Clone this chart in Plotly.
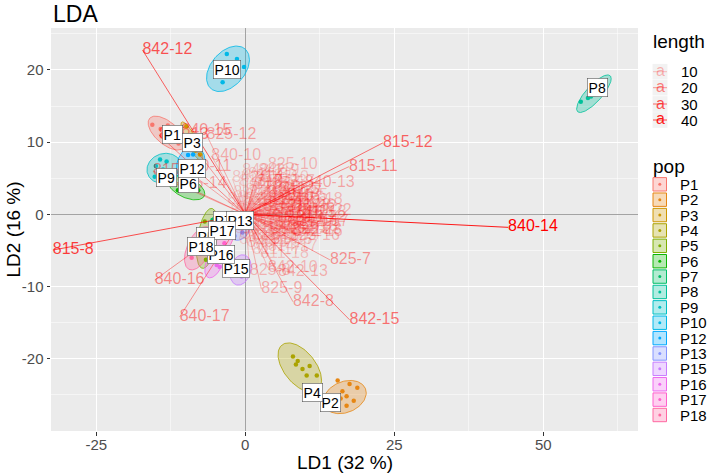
import numpy as np
import plotly.graph_objects as go

# ---------------- data ----------------
pops = ["P1", "P2", "P3", "P4", "P5", "P6", "P7", "P8", "P9", "P10",
        "P12", "P13", "P15", "P16", "P17", "P18"]
pop_colors = ["#F8766D", "#E68613", "#CD9600", "#ABA300", "#7CAE00", "#0CB702",
              "#00BE67", "#00C19A", "#00BFC4", "#00B8E7", "#00A9FF", "#8494FF",
              "#C77CFF", "#ED68ED", "#FF61CC", "#FF68A1"]

# ellipse: centre, half extents along LD1 / LD2 and correlation
ell_cx = [-13.2, 16.7, -8.95, 9.15, -6.4, -9.9, -4.8, 58.5, -13.6, -2.9,
          -9.15, -0.8, -0.8, -5.1, -3.8, -7.8]
ell_cy = [11.25, -25.3, 10.1, -21.2, -3.33, 3.7, -1.5, 16.7, 6.37, 20.15,
          6.95, -1.85, -7.7, -6.55, -3.0, -4.7]
ell_rx = [3.1, 3.6, 1.85, 3.65, 1.8, 3.1, 1.2, 2.9, 2.9, 3.6,
          2.4, 1.8, 1.8, 1.7, 2.0, 2.4]
ell_ry = [2.35, 2.3, 2.7, 3.4, 4.15, 1.7, 1.5, 2.6, 2.08, 3.15,
          2.43, 1.75, 2.1, 2.25, 2.3, 3.0]
ell_rho = [-0.6, 0.25, -0.85, -0.52, 0.4, -0.5, 0.2, 0.8, 0.1, 0.4,
           0.2, 0.3, 0.2, 0.5, 0.3, 0.5]

# individual scores
pt_x = [
    [-15.6, -14.2, -13.0, -12.6, -11.8, -11.2, -14.0],
    [15.5, 17.5, 18.8, 16.3, 17.0, 16.0, 18.2, 17.0],
    [-9.9, -9.0, -8.4, -7.6, -8.0],
    [8.0, 8.8, 9.6, 10.8, 12.0, 10.3, 8.5],
    [-6.8, -6.0, -7.0, -5.8, -6.6],
    [-11.3, -9.0, -7.9, -10.15, -10.5],
    [-5.5, -4.8, -5.2],
    [56.3, 57.5, 58.5, 59.1, 59.6, 58.0],
    [-14.3, -15.2, -13.2, -13.8, -12.3, -15.0],
    [-3.1, -1.4, -0.2, -2.3, -3.6, -3.8],
    [-9.6, -8.75, -9.4, -7.9, -8.5],
    [-1.5, 0.2, -0.5, -1.8],
    [-0.4, -0.6, -1.5, 0.2],
    [-4.8, -4.3, -5.8, -4.0],
    [-4.2, -3.0, -5.0, -3.5],
    [-8.5, -7.5, -9.0, -7.0],
]
pt_y = [
    [12.4, 11.8, 12.3, 10.7, 10.2, 9.8, 10.9],
    [-23.0, -23.5, -24.0, -24.5, -25.2, -25.5, -25.8, -26.5],
    [12.2, 11.0, 8.8, 8.3, 7.4],
    [-19.7, -20.3, -21.4, -21.0, -22.3, -22.3, -20.8],
    [-1.0, -2.5, -4.0, -5.5, -6.3],
    [3.35, 3.6, 3.35, 4.5, 5.0],
    [-0.8, -1.5, -2.2],
    [15.6, 16.1, 16.6, 16.9, 17.3, 16.3],
    [7.6, 5.2, 7.3, 6.2, 6.0, 6.7],
    [22.2, 21.5, 20.4, 19.3, 19.2, 18.3],
    [8.2, 8.3, 6.8, 6.8, 5.5],
    [-1.5, -1.0, -2.5, -3.0],
    [-6.8, -8.6, -8.0, -7.3],
    [-7.0, -7.3, -6.0, -5.3],
    [-2.5, -3.0, -1.8, -4.0],
    [-3.5, -5.5, -6.0, -3.0],
]

# population label positions
lab_x = [-12.2, 14.3, -8.8, 11.2, -6.45, -9.6, -3.6, 59.1, -13.2, -3.0,
         -8.9, -0.9, -1.5, -4.1, -3.9, -7.5]
lab_y = [11.0, -26.0, 10.0, -24.6, -3.0, 4.3, -0.8, 17.5, 5.1, 20.0,
         6.3, -0.8, -7.5, -5.6, -2.2, -4.4]

# loadings (allele contributions)
load_names = [
    "842-12", "815-8", "840-14", "815-12", "815-11", "840-13", "825-10", "840-10",
    "840-15", "825-12", "825-7", "842-8", "825-9", "842-15", "840-16", "840-17",
    "825-8", "842-10", "842-13", "842-16", "815-18", "825-18",
    "815-13", "815-9", "840-11", "815-14",
    "811-7", "811-8", "811-9", "811-10", "811-11", "811-12", "811-13", "811-14", "811-15", "811-16",
    "814-7", "814-8", "814-9", "814-10", "814-11", "814-12", "814-13", "814-14", "814-15", "814-16",
    "815-7", "815-10", "815-15", "815-16", "815-17",
    "825-11", "825-13", "825-14", "825-15", "825-16", "825-17",
    "840-7", "840-8", "840-9", "840-12", "840-18",
    "842-7", "842-9", "842-11", "842-14", "842-17", "842-18",
    "811-17", "811-18", "814-17", "814-18", "825-6", "840-6", "842-6", "815-6",
    "811-19", "811-20", "811-21", "811-22", "811-23", "814-19", "814-20", "814-21", "814-22", "814-23",
    "815-19", "815-20", "815-21", "815-22", "815-23", "825-19", "825-20", "825-21", "825-22", "825-23",
    "840-19", "840-20", "840-21", "840-22", "840-23", "842-19", "842-20", "842-21", "842-22", "842-23",
    "811-5", "814-5", "815-5", "825-5", "840-5", "842-5", "811-6", "814-6", "811-24", "814-24",
]
load_x = [
    -17.25, -32.3, 44.1, 23.1, 17.4, 10.0, 3.8, -5.7,
    -10.7, -6.5, 14.2, 8.0, 2.7, 17.5, -15.2, -11.0,
    0.75, 3.8, 5.5, 8.0, 8.6, 7.5,
    -14.5, -15.5, -10.5, -11.5,
    -1.0, 0.5, 1.5, 2.5, -2.0, 3.5, 4.5, 1.0, 2.0, 5.5,
    6.0, -1.5, 0.0, 3.0, 4.0, 7.0, 6.5, 5.0, 3.5, 2.0,
    1.0, -0.5, -2.5, -3.0, 0.2,
    1.8, 2.8, 4.2, 6.0, 7.5, 3.2,
    1.5, 0.3, -1.0, 5.8, 8.0,
    4.8, 2.2, -0.5, -2.2, 9.0, 7.2,
    1.2, 2.5, 3.8, -1.8, 0.8, -0.8, 2.5, 4.0,
    1.5, 3.0, 4.5, 2.2, 0.5, -1.2, 5.2, 6.8, 3.8, 2.0,
    1.0, 4.0, 5.5, 8.5, 6.0, -0.3, 2.8, 1.5, 3.3, 7.8,
    0.6, -2.0, 4.8, 9.5, 2.4, 5.0, 6.2, 3.6, 0.8, -1.5,
    2.6, 4.4, 1.8, 3.0, 7.0, 5.6, -0.6, 8.2, 1.2, 3.9,
]
load_y = [
    22.75, -4.95, -1.8, 9.9, 6.6, 4.3, 6.9, 8.1,
    11.5, 11.0, -6.3, -12.1, -10.35, -14.6, -9.1, -14.2,
    -7.85, -7.4, -8.0, -2.45, 0.2, -1.1,
    11.0, 6.0, 6.5, 4.2,
    4.5, 5.5, 4.0, 5.0, 3.0, 3.5, 2.5, 2.0, 1.2, 1.5,
    3.0, 1.5, 3.2, 2.2, 0.8, 1.0, -0.5, -1.2, -0.5, -1.0,
    -2.0, -1.0, 0.5, 2.0, 1.0,
    0.3, -2.0, -2.8, -2.2, -3.0, -3.5,
    -3.0, -4.0, -3.5, 0.5, 2.0,
    4.5, 6.0, 6.0, 5.0, -1.0, -1.8,
    -5.0, -5.5, -4.5, -2.0, 0.5, 0.3, 3.0, 1.8,
    2.5, 1.0, -0.3, -1.5, -1.2, 2.2, 2.0, 0.2, 3.0, 4.5,
    -3.0, -1.5, -2.0, -0.5, 1.2, 1.8, 0.5, -0.5, -2.5, -2.2,
    3.8, -0.8, 3.6, 0.5, 2.0, 0.0, -1.0, 1.6, -2.2, -1.8,
    -3.8, -3.6, 5.2, 4.2, 2.6, 3.4, -2.8, 1.2, 1.4, 0.2,
]
length_breaks = [10, 20, 30, 40]

x_ticks = [-25, 0, 25, 50]
x_tick_text = ["-25", "0", "25", "50"]
y_ticks = [-20, -10, 0, 10, 20]
y_tick_text = ["-20", "-10", "0", "10", "20"]

# ---------------- helpers ----------------
W, H = 708, 473
def PX(v): return v / W
def PY(v): return 1 - v / H

def rgba(hexc, a):
    h = hexc.lstrip("#")
    return "rgba(%d,%d,%d,%.3f)" % (int(h[0:2], 16), int(h[2:4], 16), int(h[4:6], 16), a)

lengths = [float(np.hypot(a, b)) for a, b in zip(load_x, load_y)]
lmin, lmax = min(lengths), max(lengths)
def alpha_of(L):
    return float(np.clip(0.1 + 0.9 * (L - lmin) / (lmax - lmin), 0.1, 1.0))

FONT = "Liberation Sans, Arial, sans-serif"
fig = go.Figure()

# ellipses
t = np.linspace(0, 2 * np.pi, 120)
for i, p in enumerate(pops):
    phi = np.arccos(ell_rho[i])
    ex = ell_cx[i] + ell_rx[i] * np.cos(t)
    ey = ell_cy[i] + ell_ry[i] * np.cos(t - phi)
    fig.add_trace(go.Scatter(x=ex, y=ey, mode="lines", fill="toself",
                             fillcolor=rgba(pop_colors[i], 0.3),
                             line=dict(color=pop_colors[i], width=0.8),
                             hoverinfo="skip"))
# points
for i, p in enumerate(pops):
    fig.add_trace(go.Scatter(x=pt_x[i], y=pt_y[i], mode="markers",
                             marker=dict(color=pop_colors[i], size=4.5),
                             hoverinfo="skip"))
# loading segments
for n, lx, ly, L in zip(load_names, load_x, load_y, lengths):
    fig.add_trace(go.Scatter(x=[0, lx], y=[0, ly], mode="lines",
                             line=dict(color=rgba("#FF0000", alpha_of(L)), width=0.9),
                             hoverinfo="skip"))
# loading labels
fig.add_trace(go.Scatter(x=load_x, y=load_y, mode="text", text=load_names,
                         textposition="middle right",
                         textfont=dict(family=FONT, size=16,
                                       color=[rgba("#FF0000", alpha_of(L)) for L in lengths]),
                         hoverinfo="skip"))

annotations = []
# population labels
for i, p in enumerate(pops):
    annotations.append(dict(x=lab_x[i], y=lab_y[i], xref="x", yref="y", text=p,
                            showarrow=False, bgcolor="white", bordercolor="#555555",
                            borderwidth=0.6, borderpad=1,
                            font=dict(family=FONT, size=14, color="black")))

# titles
annotations.append(dict(x=PX(51), y=PY(14), xref="paper", yref="paper", text="LDA",
                        showarrow=False, xanchor="left", yanchor="middle",
                        font=dict(family=FONT, size=23, color="black")))
annotations.append(dict(x=PX(344.5), y=PY(462), xref="paper", yref="paper",
                        text="LD1 (32 %)", showarrow=False, xanchor="center", yanchor="middle",
                        font=dict(family=FONT, size=19, color="black")))
annotations.append(dict(x=PX(13), y=PY(229.5), xref="paper", yref="paper",
                        text="LD2 (16 %)", showarrow=False, textangle=-90,
                        xanchor="center", yanchor="middle",
                        font=dict(family=FONT, size=19, color="black")))

shapes = []
# length legend
annotations.append(dict(x=PX(651), y=PY(41.5), xref="paper", yref="paper", text="length",
                        showarrow=False, xanchor="left", yanchor="middle",
                        font=dict(family=FONT, size=19, color="black")))
len_y = [71.7, 87.7, 104.0, 120.0]
for b, cy in zip(length_breaks, len_y):
    a = alpha_of(b)
    shapes.append(dict(type="rect", xref="paper", yref="paper",
                       x0=PX(652.5), x1=PX(667.5), y0=PY(cy + 7.8), y1=PY(cy - 7.8),
                       fillcolor="#F2F2F2", line=dict(width=0), layer="above"))
    shapes.append(dict(type="line", xref="paper", yref="paper",
                       x0=PX(653), x1=PX(667), y0=PY(cy), y1=PY(cy),
                       line=dict(color=rgba("#FF0000", a), width=0.8), layer="above"))
    annotations.append(dict(x=PX(660), y=PY(cy - 1), xref="paper", yref="paper", text="a",
                            showarrow=False, xanchor="center", yanchor="middle",
                            font=dict(family=FONT, size=16, color=rgba("#FF0000", a))))
    annotations.append(dict(x=PX(678.5), y=PY(cy), xref="paper", yref="paper", text=str(b),
                            showarrow=False, xanchor="left", yanchor="middle",
                            font=dict(family=FONT, size=15, color="black")))

# pop legend
annotations.append(dict(x=PX(651), y=PY(166.5), xref="paper", yref="paper", text="pop",
                        showarrow=False, xanchor="left", yanchor="middle",
                        font=dict(family=FONT, size=19, color="black")))
for i, p in enumerate(pops):
    cy = 184.3 + i * 15.38
    shapes.append(dict(type="rect", xref="paper", yref="paper",
                       x0=PX(653), x1=PX(666.5), y0=PY(cy + 6.7), y1=PY(cy - 6.7),
                       fillcolor=rgba(pop_colors[i], 0.3),
                       line=dict(color=pop_colors[i], width=1), layer="above"))
    shapes.append(dict(type="circle", xref="paper", yref="paper",
                       x0=PX(658.3), x1=PX(661.3), y0=PY(cy + 1.5), y1=PY(cy - 1.5),
                       fillcolor=pop_colors[i], line=dict(width=0), layer="above"))
    annotations.append(dict(x=PX(677.5), y=PY(cy), xref="paper", yref="paper", text=p,
                            showarrow=False, xanchor="left", yanchor="middle",
                            font=dict(family=FONT, size=15, color="black")))

axis_common = dict(showline=False, ticks="outside", ticklen=3.5, tickwidth=1,
                   tickcolor="#333333", tickfont=dict(family=FONT, size=15, color="#4D4D4D"),
                   showgrid=True, gridcolor="white", gridwidth=1.1,
                   zeroline=True, zerolinecolor="#A3A3A3", zerolinewidth=1,
                   automargin=False, fixedrange=True)

fig.update_layout(
    width=W, height=H, margin=dict(l=0, r=0, t=0, b=0),
    paper_bgcolor="white", plot_bgcolor="#EBEBEB", showlegend=False,
    xaxis=dict(domain=[PX(51), PX(638)], range=[-32.6, 65.9],
               tickmode="array", tickvals=x_ticks, ticktext=x_tick_text,
               ticklabelstandoff=-4,
               minor=dict(tickmode="array", tickvals=[-12.5, 12.5, 37.5, 62.5],
                          showgrid=True, gridcolor="white", gridwidth=0.5, ticks=""),
               **axis_common),
    yaxis=dict(domain=[PY(431), PY(28)], range=[-30.0, 25.8],
               tickmode="array", tickvals=y_ticks, ticktext=y_tick_text,
               minor=dict(tickmode="array", tickvals=[-25, -15, -5, 5, 15, 25],
                          showgrid=True, gridcolor="white", gridwidth=0.5, ticks=""),
               **axis_common),
    annotations=annotations, shapes=shapes,
    font=dict(family=FONT),
)

fig.write_html("out.html", config={"displayModeBar": False, "staticPlot": True},
               post_script="document.body.style.margin='0px';document.body.style.overflow='hidden';")
